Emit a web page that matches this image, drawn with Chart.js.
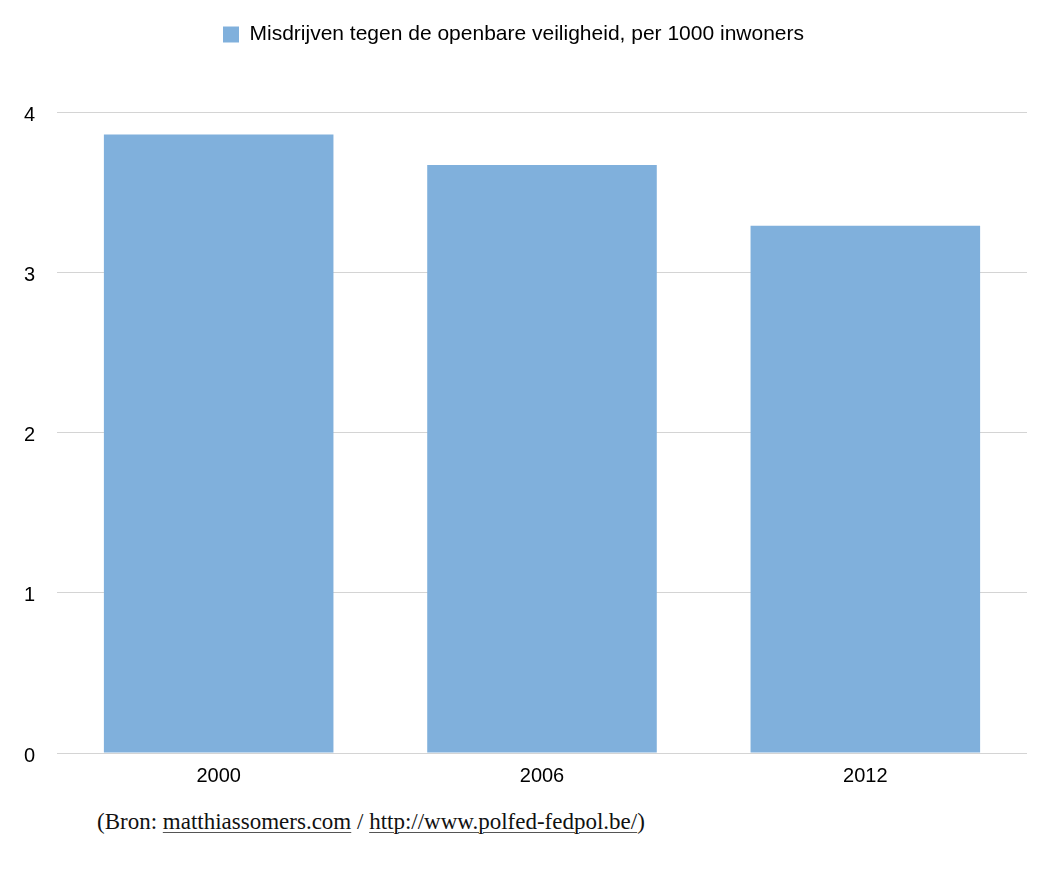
<!DOCTYPE html>
<html>
<head>
<meta charset="utf-8">
<script src="https://cdn.jsdelivr.net/npm/chart.js@4"></script>
<style>
  html,body{margin:0;padding:0;background:#fff;}
  #wrap{position:absolute;left:0;top:0;width:1051px;height:800px;}
  #src{position:absolute;left:97px;top:809px;font-family:"Liberation Serif","DejaVu Serif",serif;font-size:23px;color:#111;white-space:nowrap;}
  #src u{text-decoration:underline;text-decoration-thickness:1px;text-underline-offset:3px;text-decoration-color:#555;}
</style>
</head>
<body>
<div id="wrap"><canvas id="c"></canvas></div>
<div id="src">(Bron: <u>matthiassomers.com</u> / <u>http://www.polfed-fedpol.be/</u>)</div>
<script>
const categories = ["2000", "2006", "2012"];
const seriesLabel = "Misdrijven tegen de openbare veiligheid, per 1000 inwoners";
const seriesValues = [3.86, 3.67, 3.29];
const yTicks = [0, 1, 2, 3, 4];

const legendHeight = {
  id: 'legendHeight',
  beforeInit(chart) {
    const origFit = chart.legend.fit;
    chart.legend.fit = function () {
      origFit.bind(chart.legend)();
      this.height = 112;
    };
  }
};

new Chart(document.getElementById('c'), {
  type: 'bar',
  data: {
    labels: categories,
    datasets: [{
      label: seriesLabel,
      data: seriesValues,
      backgroundColor: '#80b0dc',
      borderWidth: 0,
      categoryPercentage: 1,
      barPercentage: 0.71
    }]
  },
  options: {
    responsive: true,
    maintainAspectRatio: false,
    animation: false,
    layout: { padding: { left: 0, right: 24, top: 0, bottom: 0 } },
    plugins: {
      legend: {
        position: 'top',
        labels: {
          boxWidth: 16,
          boxHeight: 16,
          padding: 24,
          color: '#000',
          font: { family: 'Liberation Sans, Arial, sans-serif', size: 21 }
        }
      },
      tooltip: { enabled: false }
    },
    scales: {
      x: {
        grid: { display: false, drawTicks: false },
        border: { display: false },
        ticks: {
          color: '#000',
          padding: 11,
          font: { family: 'Liberation Sans, Arial, sans-serif', size: 20 }
        },
        afterFit(scale) { scale.height = 47; }
      },
      y: {
        min: 0,
        max: 4,
        afterBuildTicks(scale) { scale.ticks = yTicks.map(v => ({ value: v })); },
        grid: { color: '#d4d4d4', lineWidth: 1, drawTicks: false },
        border: { display: false },
        ticks: {
          color: '#000',
          padding: 22,
          labelOffset: 3,
          font: { family: 'Liberation Sans, Arial, sans-serif', size: 20 }
        },
        afterFit(scale) { scale.width = 57; }
      }
    }
  },
  plugins: [legendHeight]
});
</script>
</body>
</html>
